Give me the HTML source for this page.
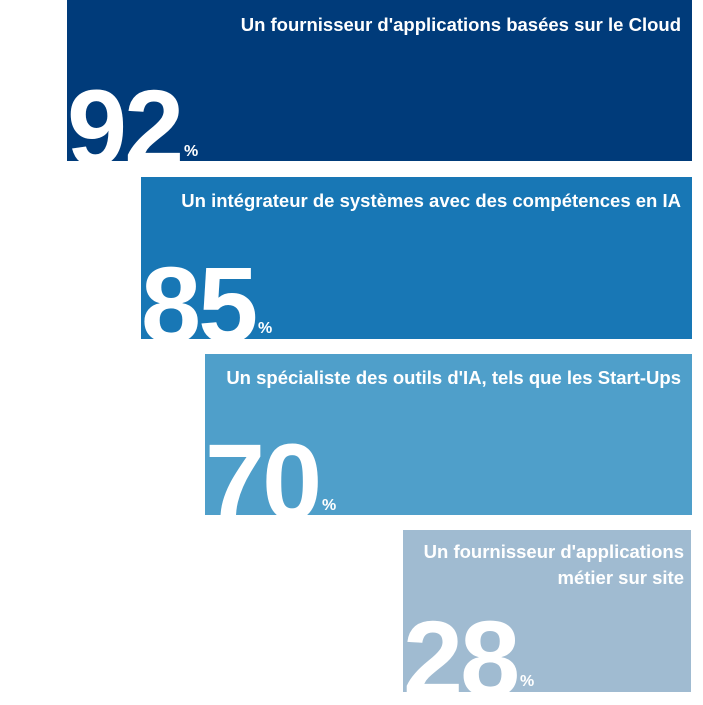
<!DOCTYPE html>
<html><head><meta charset="utf-8"><style>
body{margin:0;width:703px;height:705px;background:#fff;position:relative;overflow:hidden;font-family:"Liberation Sans",sans-serif;}
.b{position:absolute;overflow:hidden;color:#fff;}
.t{position:absolute;right:11px;font-weight:bold;font-size:18.5px;text-align:right;line-height:26px;white-space:nowrap;}
.n{position:absolute;left:0px;font-weight:bold;font-size:108px;line-height:1;letter-spacing:-3px;}
.p{position:absolute;font-weight:bold;font-size:16px;}
</style></head><body>
<div class="b" style="left:67px;top:0;width:625px;height:161px;background:#003b7a">
<div class="t" style="top:12px">Un fournisseur d'applications basées sur le Cloud</div>
<div class="n" style="top:74px">92</div><div class="p" style="left:117px;top:143px">%</div></div>
<div class="b" style="left:141px;top:177px;width:551px;height:162px;background:#1877b5">
<div class="t" style="top:11px">Un intégrateur de systèmes avec des compétences en IA</div>
<div class="n" style="top:74px">85</div><div class="p" style="left:117px;top:143px">%</div></div>
<div class="b" style="left:205px;top:354px;width:487px;height:161px;background:#4f9fca">
<div class="t" style="top:11px">Un spécialiste des outils d'IA, tels que les Start-Ups</div>
<div class="n" style="top:74px">70</div><div class="p" style="left:117px;top:143px">%</div></div>
<div class="b" style="left:403px;top:530px;width:288px;height:162px;background:#a0bbd1">
<div class="t" style="top:9px;right:7px">Un fournisseur d'applications<br>métier sur site</div>
<div class="n" style="top:75px">28</div><div class="p" style="left:117px;top:143px">%</div></div>
</body></html>
